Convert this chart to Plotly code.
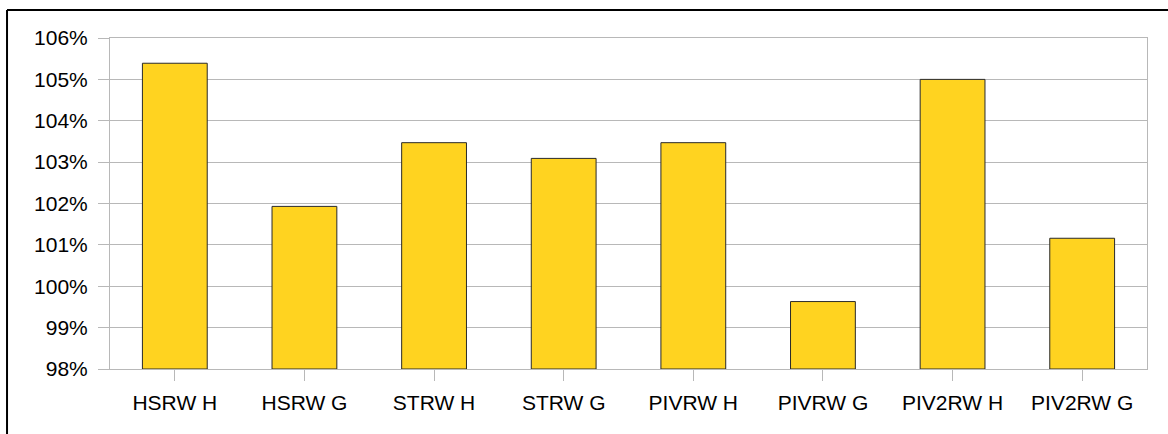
import plotly.graph_objects as go

# Categories and relative values (%)
categories = ["HSRW H", "HSRW G", "STRW H", "STRW G", "PIVRW H", "PIVRW G", "PIV2RW H", "PIV2RW G"]
values = [105.39, 101.93, 103.47, 103.09, 103.47, 99.63, 105.00, 101.16]
y_ticks = [98, 99, 100, 101, 102, 103, 104, 105, 106]
y_tick_labels = [f"{v}%" for v in y_ticks]

base = 98

fig = go.Figure(
    go.Bar(
        x=categories,
        y=[v - base for v in values],
        base=base,
        marker=dict(color="#ffd320", line=dict(color="#2a2a2a", width=1)),
        hoverinfo="x+y",
    )
)

grid = "#b8b8b8"
font = dict(family="Liberation Sans, Arial, sans-serif", size=21, color="#000000")

fig.update_layout(
    width=1168,
    height=434,
    margin=dict(l=110, r=21, t=38, b=65),
    paper_bgcolor="white",
    plot_bgcolor="white",
    bargap=0.5,
    showlegend=False,
    font=font,
    xaxis=dict(
        type="category",
        showgrid=False,
        showline=True,
        linecolor=grid,
        linewidth=1,
        mirror=True,
        ticks="outside",
        ticklen=11,
        tickcolor=grid,
        tickfont=font,
        ticklabelstandoff=4,
    ),
    yaxis=dict(
        range=[98, 106],
        tickvals=y_ticks,
        ticktext=y_tick_labels,
        showgrid=True,
        gridcolor=grid,
        gridwidth=1,
        showline=True,
        linecolor=grid,
        linewidth=1,
        mirror=True,
        ticks="outside",
        ticklen=11,
        tickcolor=grid,
        tickfont=font,
        ticklabelstandoff=6,
        zeroline=False,
    ),
    shapes=[
        # outer frame: top and left edges
        dict(type="line", xref="paper", yref="paper", x0=-0.0993, x1=1.05, y0=1.0846, y1=1.0846,
             line=dict(color="black", width=2)),
        dict(type="line", xref="paper", yref="paper", x0=-0.0993, x1=-0.0993, y0=1.0846, y1=-0.25,
             line=dict(color="black", width=2)),
    ],
)

fig.write_html("out.html")
